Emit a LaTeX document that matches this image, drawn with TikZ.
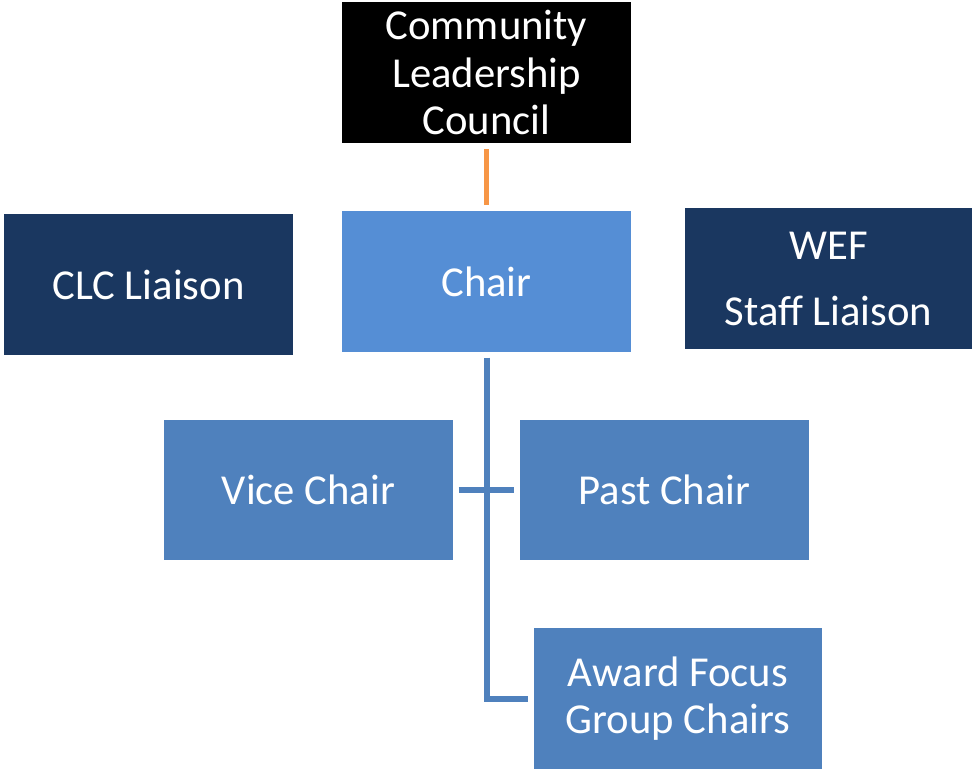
\documentclass[tikz,border=0pt]{standalone}
\usepackage{fontspec}
\setmainfont{Carlito}
\usetikzlibrary{positioning}

\definecolor{navy}{HTML}{1A3760}
\definecolor{chairblue}{HTML}{558ED5}
\definecolor{officeblue}{HTML}{4F81BD}
\definecolor{linkorange}{HTML}{F79646}

\tikzset{
  box/.style={rectangle,text=white,align=center,inner sep=0pt,
    minimum width=216.75pt,minimum height=105.75pt,
    font=\fontsize{32}{35.5}\selectfont},
  topbox/.style={box,fill=black},
  chairbox/.style={box,fill=chairblue},
  liaisonbox/.style={box,fill=navy},
  officebox/.style={box,fill=officeblue},
  link/.style={line width=3.8pt,officeblue}
}

\begin{document}
\begin{tikzpicture}[x=0.75pt,y=-0.75pt]
            \useasboundingbox (0,0) rectangle (972,769);
            \node[topbox] (council) at (486.5,72.5) {Community\\Leadership\\Council};
            \node[chairbox] (chair) at (486.5,281.5) {Chair};
            \node[liaisonbox] (clc) at (148.5,284.5) {CLC Liaison};
            \node[liaisonbox,minimum width=215.25pt] (wef) at (828.5,278.5) {WEF\\[14pt]Staff Liaison};
            \node[officebox,minimum height=105pt] (vice) at (308.5,490) {Vice Chair};
            \node[officebox,minimum height=105pt] (past) at (664.5,490) {Past Chair};
            \node[officebox,minimum width=216pt] (award) at (678,698.5) {Award Focus\\Group Chairs};
            \coordinate (corner) at (487,699);
            \draw[line width=3.8pt,linkorange,shorten <=4.5pt,shorten >=4.5pt] (council) -- (chair);
            \draw[link,shorten <=4pt,shorten >=4.5pt] (chair.south -| corner) -- (corner) -- (award.west |- corner);
            \draw[link,shorten <=4pt,shorten >=4.5pt] (vice) -- (past);
        \end{tikzpicture}
\end{document}
